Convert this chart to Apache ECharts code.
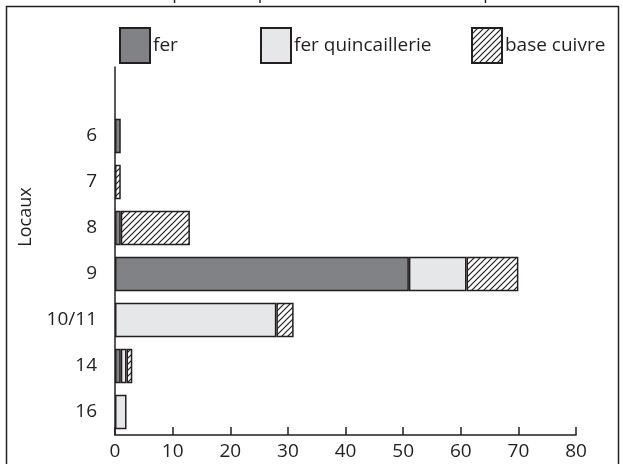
<!DOCTYPE html>
<html>
<head>
<meta charset="utf-8">
<script src="https://cdn.jsdelivr.net/npm/echarts@6/dist/echarts.min.js"></script>
<style>
  html, body { margin: 0; padding: 0; background: #fff; }
  #main { width: 623px; height: 464px; }
</style>
</head>
<body>
<div id="main"></div>
<script>
// données
var locaux = ['', '6', '7', '8', '9', '10/11', '14', '16'];
var fer = [null, 1, null, 1, 51, null, 1, null];
var ferQuinc = [null, null, null, null, 10, 28, 1, 2];
var baseCuivre = [null, null, 1, 12, 9, 3, 1, null];
var xTicks = [0, 80, 10];

var ink = '#231f20';
var police = 'Open Sans';

// hachures "/" pour base cuivre
function hachures() {
  var c = document.createElement('canvas');
  c.width = 6; c.height = 6;
  var g = c.getContext('2d');
  g.fillStyle = '#fff';
  g.fillRect(0, 0, 6, 6);
  g.strokeStyle = ink;
  g.lineWidth = 1.2;
  g.beginPath();
  g.moveTo(-1, 7); g.lineTo(7, -1);
  g.moveTo(-1, 1); g.lineTo(1, -1);
  g.moveTo(5, 7); g.lineTo(7, 5);
  g.stroke();
  return { image: c, repeat: 'repeat' };
}
var motif = hachures();

var myChart = echarts.init(document.getElementById('main'));

function legende(nom, x) {
  return {
    left: x, top: 22,
    icon: 'rect',
    itemWidth: 30, itemHeight: 35, itemGap: 0,
    data: [nom],
    textStyle: { fontFamily: police, fontSize: 19, color: ink, padding: [0, 0, 0, -2] }
  };
}

var option = {
  animation: false,
  title: {
    text: 'Répartition spatiale du mobilier métallique',
    left: 146, top: -20,
    textStyle: { fontFamily: police, fontSize: 18, fontWeight: 'normal', color: ink }
  },
  graphic: [{
    type: 'rect', shape: { x: 6.5, y: 6.5, width: 612, height: 470 },
    style: { fill: null, stroke: ink, lineWidth: 1.5 }, z: 0
  }],
  legend: [legende('fer', 114), legende('fer quincaillerie', 255), legende('base cuivre', 466)],
  grid: { left: 115, right: 47, top: 67, bottom: 29 },
  xAxis: {
    type: 'value', min: xTicks[0], max: xTicks[1], interval: xTicks[2],
    splitLine: { show: false },
    axisLine: { show: true, lineStyle: { color: ink, width: 1.5 } },
    axisTick: { show: true, inside: true, length: 8, lineStyle: { color: ink, width: 1.5 } },
    axisLabel: { fontFamily: police, fontSize: 19, color: ink, margin: 7 }
  },
  yAxis: {
    type: 'category', data: locaux, inverse: true,
    name: 'Locaux', nameLocation: 'middle', nameGap: 80, nameRotate: 90,
    nameTextStyle: { fontFamily: police, fontSize: 18, color: ink, padding: [0, 0, 0, 68] },
    axisLine: { show: true, lineStyle: { color: ink, width: 1.5 } },
    axisTick: { show: false },
    axisLabel: { fontFamily: police, fontSize: 19, color: ink, margin: 18 }
  },
  series: [
    { name: 'fer', type: 'bar', stack: 't', data: fer, barCategoryGap: '25%',
      itemStyle: { color: '#808285', borderColor: ink, borderWidth: 1.5 } },
    { name: 'fer quincaillerie', type: 'bar', stack: 't', data: ferQuinc,
      itemStyle: { color: '#e6e7e8', borderColor: ink, borderWidth: 1.5 } },
    { name: 'base cuivre', type: 'bar', stack: 't', data: baseCuivre,
      itemStyle: { color: motif, borderColor: ink, borderWidth: 1.5 } }
  ]
};

myChart.setOption(option);
</script>
</body>
</html>
